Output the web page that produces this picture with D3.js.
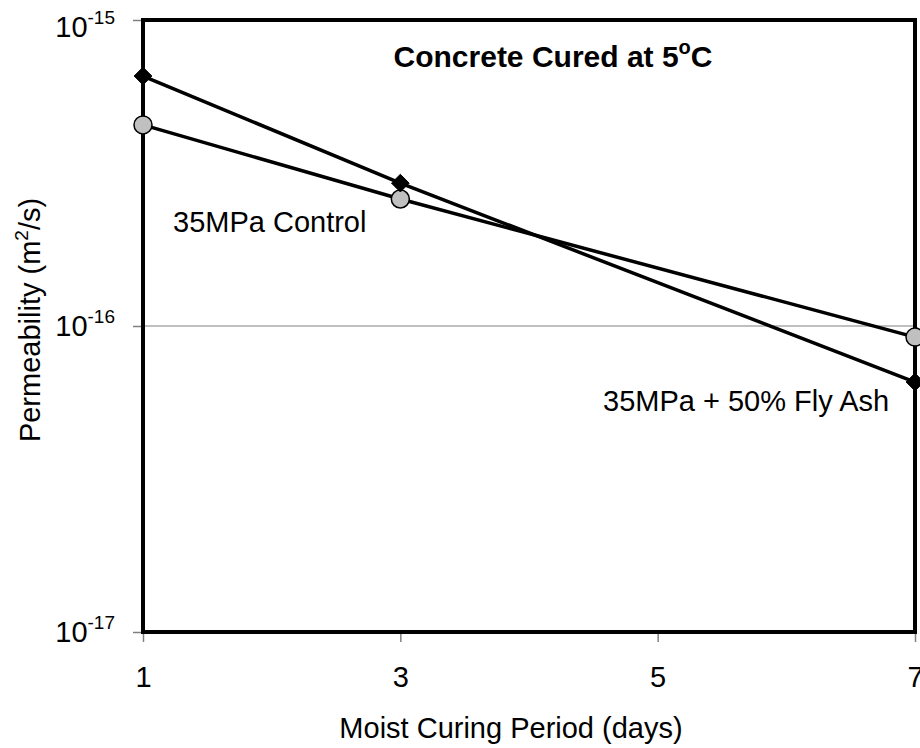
<!DOCTYPE html>
<html>
<head>
<meta charset="utf-8">
<script src="https://cdn.jsdelivr.net/npm/d3@7"></script>
<style>
  html, body { margin: 0; padding: 0; background: #fff; }
  svg { display: block; font-family: "Liberation Sans", Arial, sans-serif; }
</style>
</head>
<body>
<svg id="chart" width="920" height="748"></svg>
<script>
// ---- data ----
const curingDays = [1, 3, 7];
const controlValues = [4.54e-16, 2.60e-16, 9.2e-17];   // 35MPa Control (grey circles)
const flyAshValues  = [6.56e-16, 2.93e-16, 6.56e-17];  // 35MPa + 50% Fly Ash (black diamonds)
const xTicks = [1, 3, 5, 7];
const yTicks = [1e-17, 1e-16, 1e-15];
const yTickExponents = ["-17", "-16", "-15"];

(function () {
// ---- layout ----
const svg = d3.select("#chart");
const pL = 143, pR = 915, pT = 20, pB = 632;
const FS = 29;

const x = d3.scaleLinear().domain([1, 7]).range([pL, pR]);
const y = d3.scaleLog().domain([1e-17, 1e-15]).range([pB, pT]);

// gridlines (major decades)
svg.append("g").selectAll("line").data(yTicks).join("line")
  .attr("x1", pL).attr("x2", pR)
  .attr("y1", d => y(d)).attr("y2", d => y(d))
  .attr("stroke", "#808080").attr("stroke-width", 1.2);

// x axis ticks (outward, grey)
const xAxis = d3.axisBottom(x).tickValues(xTicks).tickSize(10).tickFormat(d3.format("d"));
const gx = svg.append("g").attr("transform", `translate(0,${pB})`).call(xAxis);
gx.select(".domain").remove();
gx.selectAll(".tick line").attr("stroke", "#808080").attr("stroke-width", 1.5);
gx.selectAll(".tick text").attr("font-size", FS).attr("fill", "#000")
  .attr("font-family", "Liberation Sans, Arial, sans-serif")
  .attr("dy", null).attr("y", 55);

// y axis ticks (outward, grey)
const yAxis = d3.axisLeft(y).tickValues(yTicks).tickSize(10).tickFormat("");
const gy = svg.append("g").attr("transform", `translate(${pL},0)`).call(yAxis);
gy.select(".domain").remove();
gy.selectAll(".tick line").attr("stroke", "#808080").attr("stroke-width", 1.5);

// y tick labels 10^n
yTicks.forEach((v, i) => {
  const ty = Math.max(y(v), 27);
  const t = svg.append("text").attr("x", 115).attr("y", ty + 10)
    .attr("text-anchor", "end").attr("font-size", FS).attr("fill", "#000");
  t.append("tspan").text("10");
  t.append("tspan").attr("dy", -13).attr("font-size", 19).text(yTickExponents[i]);
});

// plot frame
svg.append("rect").attr("x", pL).attr("y", pT)
  .attr("width", pR - pL).attr("height", pB - pT)
  .attr("fill", "none").attr("stroke", "#000").attr("stroke-width", 4);

// series lines
const line = d3.line().x(d => x(d[0])).y(d => y(d[1]));
const controlPts = curingDays.map((d, i) => [d, controlValues[i]]);
const flyPts = curingDays.map((d, i) => [d, flyAshValues[i]]);

svg.append("path").datum(controlPts).attr("d", line)
  .attr("fill", "none").attr("stroke", "#000").attr("stroke-width", 3.5);
svg.append("path").datum(flyPts).attr("d", line)
  .attr("fill", "none").attr("stroke", "#000").attr("stroke-width", 3.5);

// markers
svg.append("g").selectAll("circle").data(controlPts).join("circle")
  .attr("cx", d => x(d[0])).attr("cy", d => y(d[1])).attr("r", 9)
  .attr("fill", "#c0c0c0").attr("stroke", "#000").attr("stroke-width", 1.5);

const diamond = d3.symbol().type(d3.symbolDiamond2).size(200);
svg.append("g").selectAll("path").data(flyPts).join("path")
  .attr("transform", d => `translate(${x(d[0])},${y(d[1])})`)
  .attr("d", diamond).attr("fill", "#000").attr("stroke", "#000").attr("stroke-width", 1);

// title inside plot
const title = svg.append("text").attr("x", 553).attr("y", 67)
  .attr("text-anchor", "middle").attr("font-size", 30).attr("font-weight", "bold");
title.append("tspan").text("Concrete Cured at 5");
title.append("tspan").attr("dy", -13).attr("font-size", 20).text("o");
title.append("tspan").attr("dy", 13).text("C");

// series labels
svg.append("text").attr("x", 173).attr("y", 232).attr("font-size", FS).text("35MPa Control");
svg.append("text").attr("x", 603).attr("y", 411).attr("font-size", FS).text("35MPa + 50% Fly Ash");

// axis titles
svg.append("text").attr("x", 511).attr("y", 738).attr("text-anchor", "middle")
  .attr("font-size", FS).text("Moist Curing Period (days)");

const yt = svg.append("text").attr("transform", "translate(40,320) rotate(-90)")
  .attr("text-anchor", "middle").attr("font-size", FS);
yt.append("tspan").text("Permeability (m");
yt.append("tspan").attr("dy", -12).attr("font-size", 19).text("2");
yt.append("tspan").attr("dy", 12).text("/s)");
})();
</script>
</body>
</html>
